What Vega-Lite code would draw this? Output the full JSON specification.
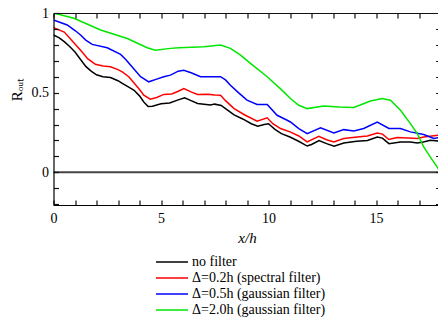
{
  "$schema": "https://vega.github.io/schema/vega-lite/v6.json",
  "autosize": {"type": "none"},
  "padding": {"left": 53.5, "top": 13, "right": 0, "bottom": 115},
  "width": 387,
  "height": 192,
  "background": "white",
  "config": {
    "view": {"stroke": null},
    "font": "Liberation Serif",
    "axis": {"domainColor": "#000", "labelColor": "#000", "titleColor": "#000", "labelFont": "Liberation Serif", "titleFont": "Liberation Serif", "labelFontSize": 14, "titleFontWeight": "normal", "labelFlush": false, "labelOverlap": false}
  },
  "datasets": {
    "curves": [
      {"x": 0, "r": 0.862, "series": "no filter"},
      {"x": 0.25, "r": 0.845, "series": "no filter"},
      {"x": 0.5, "r": 0.82, "series": "no filter"},
      {"x": 0.75, "r": 0.79, "series": "no filter"},
      {"x": 1.0, "r": 0.755, "series": "no filter"},
      {"x": 1.25, "r": 0.71, "series": "no filter"},
      {"x": 1.5, "r": 0.665, "series": "no filter"},
      {"x": 1.75, "r": 0.635, "series": "no filter"},
      {"x": 2.0, "r": 0.612, "series": "no filter"},
      {"x": 2.3, "r": 0.6, "series": "no filter"},
      {"x": 2.65, "r": 0.595, "series": "no filter"},
      {"x": 3.0, "r": 0.575, "series": "no filter"},
      {"x": 3.2, "r": 0.558, "series": "no filter"},
      {"x": 3.5, "r": 0.535, "series": "no filter"},
      {"x": 3.75, "r": 0.515, "series": "no filter"},
      {"x": 4.0, "r": 0.48, "series": "no filter"},
      {"x": 4.2, "r": 0.442, "series": "no filter"},
      {"x": 4.4, "r": 0.413, "series": "no filter"},
      {"x": 4.6, "r": 0.415, "series": "no filter"},
      {"x": 5.0, "r": 0.43, "series": "no filter"},
      {"x": 5.4, "r": 0.435, "series": "no filter"},
      {"x": 5.8, "r": 0.455, "series": "no filter"},
      {"x": 6.1, "r": 0.468, "series": "no filter"},
      {"x": 6.4, "r": 0.45, "series": "no filter"},
      {"x": 6.7, "r": 0.432, "series": "no filter"},
      {"x": 7.0, "r": 0.428, "series": "no filter"},
      {"x": 7.3, "r": 0.422, "series": "no filter"},
      {"x": 7.5, "r": 0.428, "series": "no filter"},
      {"x": 7.8, "r": 0.42, "series": "no filter"},
      {"x": 8.0, "r": 0.4, "series": "no filter"},
      {"x": 8.4, "r": 0.36, "series": "no filter"},
      {"x": 8.8, "r": 0.335, "series": "no filter"},
      {"x": 9.2, "r": 0.305, "series": "no filter"},
      {"x": 9.5, "r": 0.29, "series": "no filter"},
      {"x": 9.8, "r": 0.3, "series": "no filter"},
      {"x": 10.0, "r": 0.305, "series": "no filter"},
      {"x": 10.3, "r": 0.27, "series": "no filter"},
      {"x": 10.6, "r": 0.243, "series": "no filter"},
      {"x": 11.0, "r": 0.222, "series": "no filter"},
      {"x": 11.4, "r": 0.195, "series": "no filter"},
      {"x": 11.8, "r": 0.165, "series": "no filter"},
      {"x": 12.0, "r": 0.175, "series": "no filter"},
      {"x": 12.35, "r": 0.2, "series": "no filter"},
      {"x": 12.7, "r": 0.18, "series": "no filter"},
      {"x": 13.05, "r": 0.164, "series": "no filter"},
      {"x": 13.5, "r": 0.184, "series": "no filter"},
      {"x": 14.1, "r": 0.195, "series": "no filter"},
      {"x": 14.6, "r": 0.2, "series": "no filter"},
      {"x": 15.06, "r": 0.222, "series": "no filter"},
      {"x": 15.3, "r": 0.215, "series": "no filter"},
      {"x": 15.6, "r": 0.18, "series": "no filter"},
      {"x": 16.14, "r": 0.191, "series": "no filter"},
      {"x": 16.6, "r": 0.19, "series": "no filter"},
      {"x": 16.92, "r": 0.184, "series": "no filter"},
      {"x": 17.2, "r": 0.19, "series": "no filter"},
      {"x": 17.53, "r": 0.201, "series": "no filter"},
      {"x": 18.0, "r": 0.195, "series": "no filter"},

      {"x": 0, "r": 0.908, "series": "Δ=0.2h (spectral filter)"},
      {"x": 0.5, "r": 0.88, "series": "Δ=0.2h (spectral filter)"},
      {"x": 1.0, "r": 0.805, "series": "Δ=0.2h (spectral filter)"},
      {"x": 1.3, "r": 0.76, "series": "Δ=0.2h (spectral filter)"},
      {"x": 1.6, "r": 0.712, "series": "Δ=0.2h (spectral filter)"},
      {"x": 1.95, "r": 0.678, "series": "Δ=0.2h (spectral filter)"},
      {"x": 2.3, "r": 0.668, "series": "Δ=0.2h (spectral filter)"},
      {"x": 2.65, "r": 0.662, "series": "Δ=0.2h (spectral filter)"},
      {"x": 3.0, "r": 0.645, "series": "Δ=0.2h (spectral filter)"},
      {"x": 3.2, "r": 0.631, "series": "Δ=0.2h (spectral filter)"},
      {"x": 3.5, "r": 0.6, "series": "Δ=0.2h (spectral filter)"},
      {"x": 3.7, "r": 0.568, "series": "Δ=0.2h (spectral filter)"},
      {"x": 4.0, "r": 0.52, "series": "Δ=0.2h (spectral filter)"},
      {"x": 4.2, "r": 0.484, "series": "Δ=0.2h (spectral filter)"},
      {"x": 4.5, "r": 0.459, "series": "Δ=0.2h (spectral filter)"},
      {"x": 4.8, "r": 0.47, "series": "Δ=0.2h (spectral filter)"},
      {"x": 5.13, "r": 0.489, "series": "Δ=0.2h (spectral filter)"},
      {"x": 5.5, "r": 0.492, "series": "Δ=0.2h (spectral filter)"},
      {"x": 5.8, "r": 0.509, "series": "Δ=0.2h (spectral filter)"},
      {"x": 6.06, "r": 0.526, "series": "Δ=0.2h (spectral filter)"},
      {"x": 6.4, "r": 0.505, "series": "Δ=0.2h (spectral filter)"},
      {"x": 6.7, "r": 0.489, "series": "Δ=0.2h (spectral filter)"},
      {"x": 7.2, "r": 0.49, "series": "Δ=0.2h (spectral filter)"},
      {"x": 7.5, "r": 0.485, "series": "Δ=0.2h (spectral filter)"},
      {"x": 7.77, "r": 0.484, "series": "Δ=0.2h (spectral filter)"},
      {"x": 8.0, "r": 0.45, "series": "Δ=0.2h (spectral filter)"},
      {"x": 8.4, "r": 0.4, "series": "Δ=0.2h (spectral filter)"},
      {"x": 8.9, "r": 0.36, "series": "Δ=0.2h (spectral filter)"},
      {"x": 9.47, "r": 0.321, "series": "Δ=0.2h (spectral filter)"},
      {"x": 9.94, "r": 0.342, "series": "Δ=0.2h (spectral filter)"},
      {"x": 10.2, "r": 0.305, "series": "Δ=0.2h (spectral filter)"},
      {"x": 10.56, "r": 0.275, "series": "Δ=0.2h (spectral filter)"},
      {"x": 11.0, "r": 0.254, "series": "Δ=0.2h (spectral filter)"},
      {"x": 11.41, "r": 0.228, "series": "Δ=0.2h (spectral filter)"},
      {"x": 11.8, "r": 0.191, "series": "Δ=0.2h (spectral filter)"},
      {"x": 12.34, "r": 0.226, "series": "Δ=0.2h (spectral filter)"},
      {"x": 12.7, "r": 0.205, "series": "Δ=0.2h (spectral filter)"},
      {"x": 13.04, "r": 0.191, "series": "Δ=0.2h (spectral filter)"},
      {"x": 13.5, "r": 0.212, "series": "Δ=0.2h (spectral filter)"},
      {"x": 14.12, "r": 0.222, "series": "Δ=0.2h (spectral filter)"},
      {"x": 14.6, "r": 0.228, "series": "Δ=0.2h (spectral filter)"},
      {"x": 15.06, "r": 0.247, "series": "Δ=0.2h (spectral filter)"},
      {"x": 15.3, "r": 0.24, "series": "Δ=0.2h (spectral filter)"},
      {"x": 15.6, "r": 0.206, "series": "Δ=0.2h (spectral filter)"},
      {"x": 15.98, "r": 0.218, "series": "Δ=0.2h (spectral filter)"},
      {"x": 16.5, "r": 0.215, "series": "Δ=0.2h (spectral filter)"},
      {"x": 16.92, "r": 0.212, "series": "Δ=0.2h (spectral filter)"},
      {"x": 17.22, "r": 0.222, "series": "Δ=0.2h (spectral filter)"},
      {"x": 17.6, "r": 0.228, "series": "Δ=0.2h (spectral filter)"},
      {"x": 18.0, "r": 0.235, "series": "Δ=0.2h (spectral filter)"},

      {"x": 0, "r": 0.956, "series": "Δ=0.5h (gaussian filter)"},
      {"x": 0.64, "r": 0.925, "series": "Δ=0.5h (gaussian filter)"},
      {"x": 1.0, "r": 0.89, "series": "Δ=0.5h (gaussian filter)"},
      {"x": 1.26, "r": 0.862, "series": "Δ=0.5h (gaussian filter)"},
      {"x": 1.5, "r": 0.83, "series": "Δ=0.5h (gaussian filter)"},
      {"x": 1.8, "r": 0.803, "series": "Δ=0.5h (gaussian filter)"},
      {"x": 2.5, "r": 0.782, "series": "Δ=0.5h (gaussian filter)"},
      {"x": 3.12, "r": 0.74, "series": "Δ=0.5h (gaussian filter)"},
      {"x": 3.35, "r": 0.71, "series": "Δ=0.5h (gaussian filter)"},
      {"x": 3.58, "r": 0.673, "series": "Δ=0.5h (gaussian filter)"},
      {"x": 4.05, "r": 0.6, "series": "Δ=0.5h (gaussian filter)"},
      {"x": 4.43, "r": 0.568, "series": "Δ=0.5h (gaussian filter)"},
      {"x": 4.8, "r": 0.585, "series": "Δ=0.5h (gaussian filter)"},
      {"x": 5.13, "r": 0.6, "series": "Δ=0.5h (gaussian filter)"},
      {"x": 5.44, "r": 0.61, "series": "Δ=0.5h (gaussian filter)"},
      {"x": 5.8, "r": 0.635, "series": "Δ=0.5h (gaussian filter)"},
      {"x": 6.06, "r": 0.64, "series": "Δ=0.5h (gaussian filter)"},
      {"x": 6.4, "r": 0.625, "series": "Δ=0.5h (gaussian filter)"},
      {"x": 6.84, "r": 0.6, "series": "Δ=0.5h (gaussian filter)"},
      {"x": 7.3, "r": 0.6, "series": "Δ=0.5h (gaussian filter)"},
      {"x": 7.77, "r": 0.6, "series": "Δ=0.5h (gaussian filter)"},
      {"x": 8.0, "r": 0.58, "series": "Δ=0.5h (gaussian filter)"},
      {"x": 8.23, "r": 0.547, "series": "Δ=0.5h (gaussian filter)"},
      {"x": 8.6, "r": 0.5, "series": "Δ=0.5h (gaussian filter)"},
      {"x": 9.0, "r": 0.453, "series": "Δ=0.5h (gaussian filter)"},
      {"x": 9.47, "r": 0.426, "series": "Δ=0.5h (gaussian filter)"},
      {"x": 9.94, "r": 0.426, "series": "Δ=0.5h (gaussian filter)"},
      {"x": 10.4, "r": 0.358, "series": "Δ=0.5h (gaussian filter)"},
      {"x": 10.87, "r": 0.327, "series": "Δ=0.5h (gaussian filter)"},
      {"x": 11.02, "r": 0.316, "series": "Δ=0.5h (gaussian filter)"},
      {"x": 11.41, "r": 0.275, "series": "Δ=0.5h (gaussian filter)"},
      {"x": 11.8, "r": 0.243, "series": "Δ=0.5h (gaussian filter)"},
      {"x": 12.42, "r": 0.279, "series": "Δ=0.5h (gaussian filter)"},
      {"x": 13.04, "r": 0.247, "series": "Δ=0.5h (gaussian filter)"},
      {"x": 13.5, "r": 0.268, "series": "Δ=0.5h (gaussian filter)"},
      {"x": 13.97, "r": 0.26, "series": "Δ=0.5h (gaussian filter)"},
      {"x": 14.43, "r": 0.275, "series": "Δ=0.5h (gaussian filter)"},
      {"x": 15.06, "r": 0.316, "series": "Δ=0.5h (gaussian filter)"},
      {"x": 15.6, "r": 0.275, "series": "Δ=0.5h (gaussian filter)"},
      {"x": 16.14, "r": 0.275, "series": "Δ=0.5h (gaussian filter)"},
      {"x": 16.6, "r": 0.254, "series": "Δ=0.5h (gaussian filter)"},
      {"x": 17.22, "r": 0.237, "series": "Δ=0.5h (gaussian filter)"},
      {"x": 17.69, "r": 0.212, "series": "Δ=0.5h (gaussian filter)"},
      {"x": 18.0, "r": 0.22, "series": "Δ=0.5h (gaussian filter)"},

      {"x": 0, "r": 1.0, "series": "Δ=2.0h (gaussian filter)"},
      {"x": 0.95, "r": 0.967, "series": "Δ=2.0h (gaussian filter)"},
      {"x": 2.19, "r": 0.893, "series": "Δ=2.0h (gaussian filter)"},
      {"x": 3.43, "r": 0.84, "series": "Δ=2.0h (gaussian filter)"},
      {"x": 4.36, "r": 0.782, "series": "Δ=2.0h (gaussian filter)"},
      {"x": 4.74, "r": 0.767, "series": "Δ=2.0h (gaussian filter)"},
      {"x": 5.44, "r": 0.778, "series": "Δ=2.0h (gaussian filter)"},
      {"x": 5.83, "r": 0.782, "series": "Δ=2.0h (gaussian filter)"},
      {"x": 6.99, "r": 0.788, "series": "Δ=2.0h (gaussian filter)"},
      {"x": 7.77, "r": 0.799, "series": "Δ=2.0h (gaussian filter)"},
      {"x": 8.23, "r": 0.778, "series": "Δ=2.0h (gaussian filter)"},
      {"x": 8.7, "r": 0.735, "series": "Δ=2.0h (gaussian filter)"},
      {"x": 9.16, "r": 0.684, "series": "Δ=2.0h (gaussian filter)"},
      {"x": 9.94, "r": 0.6, "series": "Δ=2.0h (gaussian filter)"},
      {"x": 10.71, "r": 0.505, "series": "Δ=2.0h (gaussian filter)"},
      {"x": 11.02, "r": 0.463, "series": "Δ=2.0h (gaussian filter)"},
      {"x": 11.41, "r": 0.421, "series": "Δ=2.0h (gaussian filter)"},
      {"x": 11.8, "r": 0.4, "series": "Δ=2.0h (gaussian filter)"},
      {"x": 12.57, "r": 0.417, "series": "Δ=2.0h (gaussian filter)"},
      {"x": 13.3, "r": 0.41, "series": "Δ=2.0h (gaussian filter)"},
      {"x": 13.97, "r": 0.407, "series": "Δ=2.0h (gaussian filter)"},
      {"x": 14.74, "r": 0.448, "series": "Δ=2.0h (gaussian filter)"},
      {"x": 15.29, "r": 0.463, "series": "Δ=2.0h (gaussian filter)"},
      {"x": 15.67, "r": 0.453, "series": "Δ=2.0h (gaussian filter)"},
      {"x": 16.14, "r": 0.39, "series": "Δ=2.0h (gaussian filter)"},
      {"x": 16.6, "r": 0.306, "series": "Δ=2.0h (gaussian filter)"},
      {"x": 16.92, "r": 0.243, "series": "Δ=2.0h (gaussian filter)"},
      {"x": 17.22, "r": 0.159, "series": "Δ=2.0h (gaussian filter)"},
      {"x": 17.53, "r": 0.096, "series": "Δ=2.0h (gaussian filter)"},
      {"x": 17.85, "r": 0.033, "series": "Δ=2.0h (gaussian filter)"},
      {"x": 18.0, "r": 0.0, "series": "Δ=2.0h (gaussian filter)"}
    ],
    "zero": [{"x": 0, "x2": 18, "r": 0}]
  },
  "resolve": {"axis": {"x": "independent", "y": "independent"}},
  "layer": [
    {
      "data": {"name": "zero"},
      "mark": {"type": "rule", "color": "#444", "strokeWidth": 2},
      "encoding": {
        "x": {
          "field": "x", "type": "quantitative",
          "scale": {"domain": [0, 18], "nice": false, "zero": false},
          "axis": {
            "orient": "top",
            "values": [0,1,2,3,4,5,6,7,8,9,10,11,12,13,14,15,16,17,18],
            "labels": false, "ticks": true, "grid": false, "zindex": 1,
            "tickSize": -5, "tickColor": "#111", "tickWidth": 1.2, "domainColor": "#111", "domainWidth": 1.2,
            "title": null
          }
        },
        "x2": {"field": "x2"},
        "y": {
          "field": "r", "type": "quantitative",
          "scale": {"domain": [-0.205, 1], "nice": false, "zero": false},
          "axis": {
            "orient": "right",
            "values": [-0.2,-0.1,0,0.1,0.2,0.3,0.4,0.5,0.6,0.7,0.8,0.9,1],
            "labels": false, "ticks": true, "grid": false, "zindex": 1,
            "tickSize": -5, "tickColor": "#111", "tickWidth": 1.2,
            "title": null
          }
        }
      }
    },
    {
      "data": {"name": "curves"},
      "mark": {"type": "line", "strokeWidth": 1.5, "clip": true},
      "encoding": {
        "x": {
          "field": "x", "type": "quantitative",
          "axis": {
            "orient": "bottom",
            "values": [0,1,2,3,4,5,6,7,8,9,10,11,12,13,14,15,16,17,18],
            "labelExpr": "datum.value % 5 === 0 ? datum.label : ''",
            "ticks": true, "grid": false, "zindex": 1,
            "tickSize": -5, "tickColor": "#111", "tickWidth": 1.2, "domainWidth": 1.2,
            "labelPadding": 11,
            "title": "x/h",
            "titleFontStyle": "italic",
            "titleFontSize": 15,
            "titleY": 32,
            "titleBaseline": "middle"
          }
        },
        "y": {
          "field": "r", "type": "quantitative",
          "axis": {
            "orient": "left",
            "values": [-0.2,-0.1,0,0.1,0.2,0.3,0.4,0.5,0.6,0.7,0.8,0.9,1],
            "format": "~g",
            "labelExpr": "(datum.value === 0 || datum.value === 0.5 || datum.value === 1) ? datum.label : ''",
            "ticks": true, "grid": false, "zindex": 1,
            "tickSize": -5, "tickColor": "#111", "tickWidth": 1.2, "domainWidth": 1.2,
            "labelPadding": 10,
            "title": "Rₒᵤₜ",
            "titleFontSize": 15,
            "titleX": -37,
            "titleY": 76,
            "titleAlign": "center",
            "titleBaseline": "middle"
          }
        },
        "color": {
          "field": "series", "type": "nominal",
          "scale": {
            "domain": ["no filter", "Δ=0.2h (spectral filter)", "Δ=0.5h (gaussian filter)", "Δ=2.0h (gaussian filter)"],
            "range": ["#000000", "#ff0000", "#0000ff", "#00e600"]
          },
          "legend": {
            "orient": "none",
            "legendX": 101.5,
            "legendY": 241,
            "title": null,
            "symbolType": "stroke",
            "symbolSize": 1024,
            "symbolStrokeWidth": 1.5,
            "clipHeight": 16,
            "rowPadding": 0,
            "labelFont": "Liberation Serif",
            "labelFontSize": 14,
            "labelColor": "#000",
            "labelOffset": 3,
            "labelLimit": 300
          }
        }
      }
    }
  ]
}
